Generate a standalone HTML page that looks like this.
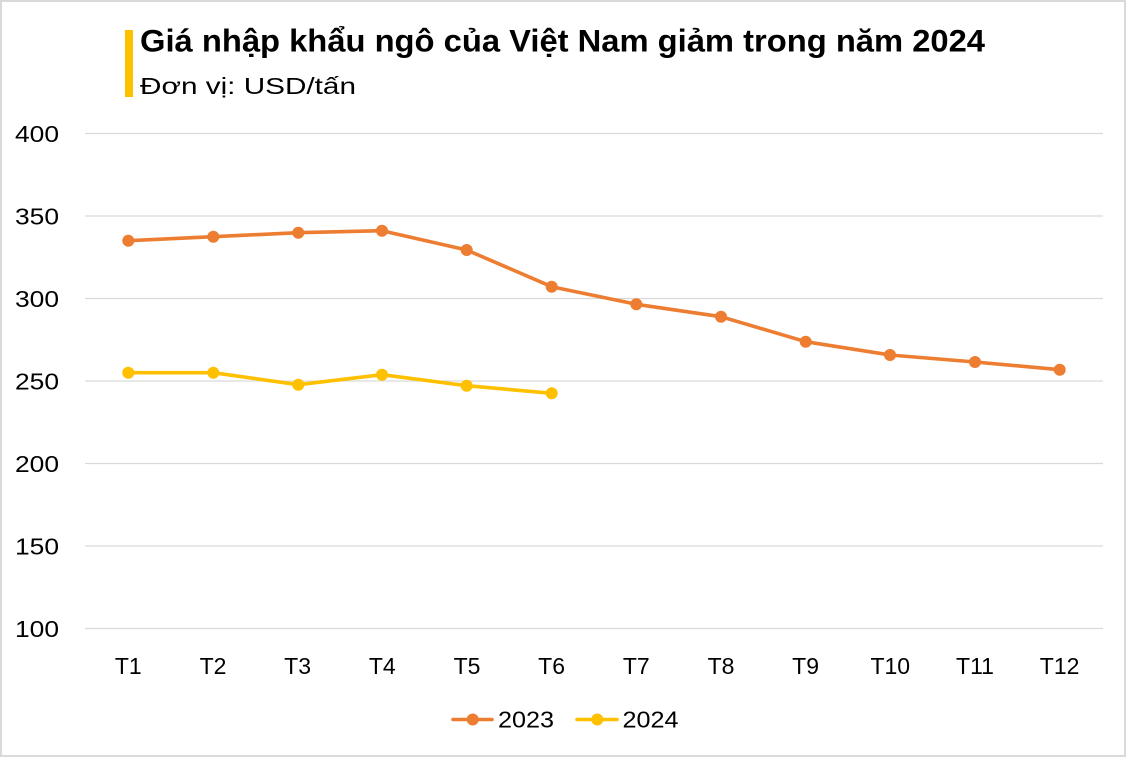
<!DOCTYPE html>
<html>
<head>
<meta charset="utf-8">
<style>
  html,body{margin:0;padding:0;background:#fff;}
  svg{display:block;}
  text{font-family:"Liberation Sans", Arial, sans-serif;fill:#000;}
</style>
</head>
<body>
<svg width="1126" height="757" viewBox="0 0 1126 757" xmlns="http://www.w3.org/2000/svg">
  <rect x="0" y="0" width="1126" height="757" fill="#fff"/>
  <rect x="1" y="1" width="1124" height="755" fill="none" stroke="#d9d9d9" stroke-width="2"/>

  <!-- title -->
  <rect x="125" y="30" width="8" height="67" fill="#FFC000"/>
  <text x="140" y="51.5" font-size="31.5" font-weight="bold" textLength="845" lengthAdjust="spacingAndGlyphs">Giá nhập khẩu ngô của Việt Nam giảm trong năm 2024</text>
  <text x="140" y="94" font-size="23" textLength="216" lengthAdjust="spacingAndGlyphs">Đơn vị: USD/tấn</text>

  <!-- gridlines -->
  <g stroke="#d9d9d9" stroke-width="1.2">
    <line x1="85" y1="133.5" x2="1103" y2="133.5"/>
    <line x1="85" y1="216" x2="1103" y2="216"/>
    <line x1="85" y1="298.5" x2="1103" y2="298.5"/>
    <line x1="85" y1="381" x2="1103" y2="381"/>
    <line x1="85" y1="463.5" x2="1103" y2="463.5"/>
    <line x1="85" y1="546" x2="1103" y2="546"/>
    <line x1="85" y1="628.5" x2="1103" y2="628.5"/>
  </g>

  <!-- y labels -->
  <g font-size="23.5">
    <text x="15" y="142" textLength="44" lengthAdjust="spacingAndGlyphs">400</text>
    <text x="15" y="224.5" textLength="44" lengthAdjust="spacingAndGlyphs">350</text>
    <text x="15" y="307" textLength="44" lengthAdjust="spacingAndGlyphs">300</text>
    <text x="15" y="389.5" textLength="44" lengthAdjust="spacingAndGlyphs">250</text>
    <text x="15" y="472" textLength="44" lengthAdjust="spacingAndGlyphs">200</text>
    <text x="15" y="554.5" textLength="44" lengthAdjust="spacingAndGlyphs">150</text>
    <text x="15" y="637" textLength="44" lengthAdjust="spacingAndGlyphs">100</text>
  </g>

  <!-- x labels -->
  <g font-size="23" text-anchor="middle">
    <text x="128.3" y="674">T1</text>
    <text x="213" y="674">T2</text>
    <text x="297.6" y="674">T3</text>
    <text x="382.3" y="674">T4</text>
    <text x="467" y="674">T5</text>
    <text x="551.6" y="674">T6</text>
    <text x="636.3" y="674">T7</text>
    <text x="721" y="674">T8</text>
    <text x="805.6" y="674">T9</text>
    <text x="890.3" y="674">T10</text>
    <text x="975" y="674">T11</text>
    <text x="1059.6" y="674">T12</text>
  </g>

  <!-- 2023 series -->
  <polyline fill="none" stroke="#ED7D31" stroke-width="3.6" stroke-linejoin="round" stroke-linecap="round"
    points="128.3,240.7 213.3,236.7 298.3,232.7 382,230.7 466.7,250 551.7,286.7 636.3,304.3 721,316.7 805.7,341.7 890,355 975,362 1059.7,369.7"/>
  <g fill="#ED7D31">
    <circle cx="128.3" cy="240.7" r="6"/>
    <circle cx="213.3" cy="236.7" r="6"/>
    <circle cx="298.3" cy="232.7" r="6"/>
    <circle cx="382" cy="230.7" r="6"/>
    <circle cx="466.7" cy="250" r="6"/>
    <circle cx="551.7" cy="286.7" r="6"/>
    <circle cx="636.3" cy="304.3" r="6"/>
    <circle cx="721" cy="316.7" r="6"/>
    <circle cx="805.7" cy="341.7" r="6"/>
    <circle cx="890" cy="355" r="6"/>
    <circle cx="975" cy="362" r="6"/>
    <circle cx="1059.7" cy="369.7" r="6"/>
  </g>

  <!-- 2024 series -->
  <polyline fill="none" stroke="#FFC000" stroke-width="3.6" stroke-linejoin="round" stroke-linecap="round"
    points="128.3,372.7 213.3,372.7 298.3,384.7 382,374.7 466.7,385.7 551.7,393.3"/>
  <g fill="#FFC000">
    <circle cx="128.3" cy="372.7" r="6"/>
    <circle cx="213.3" cy="372.7" r="6"/>
    <circle cx="298.3" cy="384.7" r="6"/>
    <circle cx="382" cy="374.7" r="6"/>
    <circle cx="466.7" cy="385.7" r="6"/>
    <circle cx="551.7" cy="393.3" r="6"/>
  </g>

  <!-- legend -->
  <line x1="453" y1="719.5" x2="492" y2="719.5" stroke="#ED7D31" stroke-width="3.6" stroke-linecap="round"/>
  <circle cx="472.7" cy="719.5" r="6" fill="#ED7D31"/>
  <text x="498" y="727.5" font-size="23" textLength="56" lengthAdjust="spacingAndGlyphs">2023</text>
  <line x1="577" y1="719.5" x2="617" y2="719.5" stroke="#FFC000" stroke-width="3.6" stroke-linecap="round"/>
  <circle cx="597.3" cy="719.5" r="6" fill="#FFC000"/>
  <text x="622.5" y="727.5" font-size="23" textLength="56" lengthAdjust="spacingAndGlyphs">2024</text>
</svg>
</body>
</html>
